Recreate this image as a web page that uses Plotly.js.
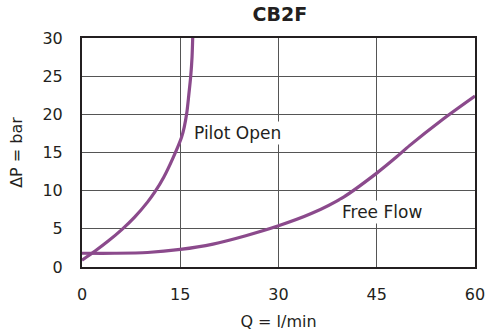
<!DOCTYPE html>
<html><head><meta charset="utf-8">
<script src="https://cdn.plot.ly/plotly-3.0.1.min.js"></script>
<style>html,body{margin:0;padding:0;background:#fff}#c{width:485px;height:336px}</style>
</head><body><div id="c"></div>
<script>
const pilotQ = [0, 2, 4, 6.2, 8, 10, 11.1, 12.5, 13.9, 15.2, 15.6, 16.0, 16.3, 16.6, 16.8, 16.9];
const pilotP = [0.9, 2.1, 3.4, 5.0, 6.5, 8.5, 9.8, 11.8, 14.3, 17.0, 18.3, 20.2, 22.5, 25, 27.5, 30];
const freeQ = [0, 5, 10, 15, 20, 25, 30, 35, 40, 45, 48, 50, 55, 60];
const freeP = [1.8, 1.8, 1.9, 2.3, 3.0, 4.1, 5.4, 7.0, 9.2, 12.3, 14.4, 15.9, 19.3, 22.4];
const xTicks = [0, 15, 30, 45, 60];
const yTicks = [0, 5, 10, 15, 20, 25, 30];
const col = '#8b4a8c';
const font = 'DejaVu Sans, sans-serif';
Plotly.newPlot('c', [
  {x: pilotQ, y: pilotP, mode: 'lines', line: {color: col, width: 3.2, shape: 'spline', smoothing: 0.7}, hoverinfo: 'none'},
  {x: freeQ, y: freeP, mode: 'lines', line: {color: col, width: 3.2, shape: 'spline', smoothing: 0.8}, hoverinfo: 'none'}
], {
  width: 485, height: 336,
  margin: {l: 82, r: 10, t: 38, b: 69},
  showlegend: false,
  paper_bgcolor: '#fff', plot_bgcolor: '#fff',
  font: {family: font, color: '#231f20', size: 16},
  title: {text: '<b>CB2F</b>', x: 0.577, xanchor: 'center', y: 0.957, yanchor: 'middle', font: {size: 19, family: font, color: '#231f20'}},
  xaxis: {range: [0, 60], tickvals: xTicks, ticktext: xTicks.map(String), showgrid: true, gridcolor: '#555', gridwidth: 1,
    zeroline: false, showline: true, linecolor: '#231f20', linewidth: 2, mirror: true, ticks: '', ticklabelstandoff: 12,
    ticklabeloverflow: 'allow',
    title: {text: 'Q = l/min', standoff: 13, font: {size: 16}}},
  yaxis: {range: [0, 30], tickvals: yTicks, ticktext: yTicks.map(String), showgrid: true, gridcolor: '#555', gridwidth: 1,
    zeroline: false, showline: true, linecolor: '#231f20', linewidth: 2, mirror: true, ticks: '', ticklabelstandoff: 14,
    ticklabeloverflow: 'allow',
    title: {text: 'ΔP = bar', standoff: 16, font: {size: 16}}},
  annotations: [
    {x: 23.7, y: 17.6, text: 'Pilot Open', showarrow: false, bgcolor: '#fff', font: {size: 17}},
    {x: 45.8, y: 7.2, text: 'Free Flow', showarrow: false, bgcolor: '#fff', font: {size: 17}}
  ]
}, {displayModeBar: false, staticPlot: true});
</script></body></html>
